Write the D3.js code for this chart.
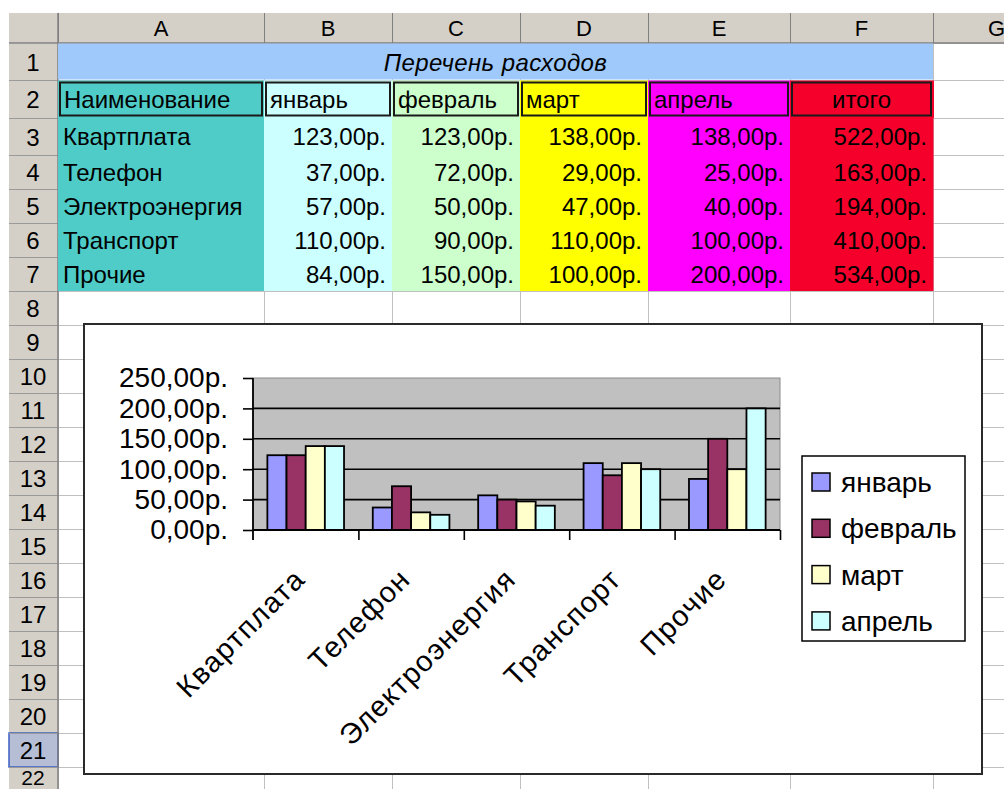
<!DOCTYPE html>
<html><head><meta charset="utf-8">
<script src="https://cdn.jsdelivr.net/npm/d3@7"></script>
<style>
html,body{margin:0;padding:0;background:#fff;}
svg{display:block;}
text{font-family:"Liberation Sans",Arial,sans-serif;fill:#000;}
</style></head>
<body>
<svg id="c" width="1004" height="789"></svg>
<script>
// ---------- data ----------
const categories = ["Квартплата","Телефон","Электроэнергия","Транспорт","Прочие"];
const months = ["январь","февраль","март","апрель"];
const january = [123,37,57,110,84];
const february = [123,72,50,90,150];
const march = [138,29,47,110,100];
const april = [138,25,40,100,200];
const totals = [522,163,194,410,534];
const yTicks = [0,50,100,150,200,250];
const columnLetters = ["A","B","C","D","E","F","G"];
const rowNumbers = d3.range(1,23);
const sheetTitle = "Перечень расходов";
const nameHeader = "Наименование";
const totalHeader = "итого";

const series = [january,february,march,april];
const fmt = v => v.toFixed(2).replace(".", ",") + "р.";

// ---------- layout ----------
const svg = d3.select("#c");
const colX = [58,264,392,520,648,790,933,1060];
const rowY = [43,80,118,155,189,223,257,291];
for (let i=8;i<=22;i++) rowY.push(rowY[rowY.length-1]+34);
const hdrTop = 13, rowHdrLeft = 9;
const grid = "#c0c0c0";

// white cells + gridlines
svg.append("rect").attr("x",58).attr("y",43).attr("width",1004-58).attr("height",789-43).attr("fill","#fff");
svg.append("g").selectAll("line").data(rowY).join("line")
  .attr("x1",58).attr("x2",1004).attr("y1",d=>d+0.5).attr("y2",d=>d+0.5).attr("stroke",grid);
svg.append("g").selectAll("line").data(colX).join("line")
  .attr("y1",43).attr("y2",789).attr("x1",d=>d+0.5).attr("x2",d=>d+0.5).attr("stroke",grid);

// column headers
const hdrFill = "#d4d0c8";
svg.append("rect").attr("x",rowHdrLeft).attr("y",hdrTop).attr("width",1004-rowHdrLeft).attr("height",43-hdrTop).attr("fill",hdrFill);
svg.append("rect").attr("x",rowHdrLeft).attr("y",hdrTop).attr("width",58-rowHdrLeft).attr("height",789-hdrTop).attr("fill",hdrFill);
const colG = svg.append("g");
columnLetters.forEach((c,i)=>{
  colG.append("line").attr("x1",colX[i]+0.5).attr("x2",colX[i]+0.5).attr("y1",hdrTop).attr("y2",43).attr("stroke","#808080");
  colG.append("text").attr("x",(colX[i]+colX[i+1])/2).attr("y",36).attr("text-anchor","middle")
    .attr("font-size",22).text(c);
});
svg.append("line").attr("x1",rowHdrLeft).attr("x2",1004).attr("y1",43).attr("y2",43).attr("stroke","#808080").attr("stroke-width",1.5);
// row headers
const rowG = svg.append("g");
rowNumbers.forEach((r,i)=>{
  const y0 = rowY[i], y1 = rowY[i+1];
  if (r===21){
    rowG.append("rect").attr("x",rowHdrLeft).attr("y",y0).attr("width",58-rowHdrLeft).attr("height",y1-y0)
      .attr("fill","#b6bed6").attr("stroke","#3b5fc4").attr("stroke-width",1.5);
  }
  rowG.append("line").attr("x1",rowHdrLeft).attr("x2",58).attr("y1",y0+0.5).attr("y2",y0+0.5).attr("stroke","#9a9a9a");
  const last = r===22;
  rowG.append("text").attr("x",33).attr("y",last ? 785 : (y0+y1)/2+9).attr("text-anchor","middle")
    .attr("font-size",last ? 21 : 24).text(r);
});
svg.append("line").attr("x1",58).attr("x2",58).attr("y1",hdrTop).attr("y2",789).attr("stroke","#808080").attr("stroke-width",1.5);

// row 1 title
svg.append("rect").attr("x",58).attr("y",43.5).attr("width",933-58).attr("height",80-44).attr("fill","#9ec9fa");
svg.append("text").attr("x",(58+933)/2).attr("y",71).attr("text-anchor","middle").attr("font-size",24)
  .attr("font-style","italic").attr("letter-spacing",0.4).text(sheetTitle);

// table colours
const colColors = ["#50ccc8","#ccffff","#ccffcc","#ffff00","#ff00ff","#f5002a"];
// row 2 headers
const headers = [nameHeader, ...months, totalHeader];
headers.forEach((h,i)=>{
  svg.append("rect").attr("x",colX[i]).attr("y",80.5).attr("width",colX[i+1]-colX[i]+1).attr("height",118-80.5).attr("fill",colColors[i]);
});
headers.forEach((h,i)=>{
  svg.append("rect").attr("x",colX[i]+2).attr("y",82.5).attr("width",colX[i+1]-colX[i]-4).attr("height",33)
    .attr("fill","none").attr("stroke","#1a1a1a").attr("stroke-width",2);
  const center = i===5;
  svg.append("text").attr("x",center?(colX[i]+colX[i+1])/2:colX[i]+6).attr("y",108)
    .attr("text-anchor",center?"middle":"start").attr("font-size",24).text(h);
});
// rows 3-7
const tableCols = [categories, january, february, march, april, totals];
tableCols.forEach((col,i)=>{
  svg.append("rect").attr("x",colX[i]).attr("y",118).attr("width",colX[i+1]-colX[i]+(i<5?1:0.5)).attr("height",291-118).attr("fill",colColors[i]);
});
tableCols.forEach((col,i)=>{
  svg.append("g").selectAll("text").data(col).join("text")
    .attr("x",i===0?colX[0]+5:colX[i+1]-6)
    .attr("y",(d,j)=>(rowY[j+2]+rowY[j+3])/2+8.5)
    .attr("text-anchor",i===0?"start":"end").attr("font-size",24)
    .text(d=>i===0?d:fmt(d));
});

// ---------- chart ----------
svg.append("rect").attr("x",84).attr("y",324).attr("width",898).attr("height",450)
  .attr("fill","#fff").attr("stroke","#2a2a2a").attr("stroke-width",2);

const x = d3.scaleBand().domain(categories).range([253,780]).padding(0);
const xm = d3.scaleBand().domain(months).range([0,x.bandwidth()]).paddingInner(0).paddingOuter(0.75);
const y = d3.scaleLinear().domain([0,250]).range([530,378]);
const barColors = ["#9999ff","#993366","#ffffcc","#ccffff"];

svg.append("rect").attr("x",253).attr("y",y(250)).attr("width",780-253).attr("height",y(0)-y(250))
  .attr("fill","#c0c0c0").attr("stroke","#8a8a8a").attr("stroke-width",1);
svg.append("g").selectAll("line").data(yTicks.filter(v=>v>0&&v<250)).join("line")
  .attr("x1",253).attr("x2",780).attr("y1",d=>y(d)).attr("y2",d=>y(d)).attr("stroke","#000").attr("stroke-width",1.6);

const bars = svg.append("g");
months.forEach((m,si)=>{
  bars.append("g").selectAll("rect").data(series[si]).join("rect")
    .attr("x",(d,i)=>x(categories[i])+xm(m))
    .attr("y",d=>y(d))
    .attr("width",xm.bandwidth())
    .attr("height",d=>y(0)-y(d))
    .attr("fill",barColors[si]).attr("stroke","#000").attr("stroke-width",1.8);
});

const yAxis = d3.axisLeft(y).tickValues(yTicks).tickSize(10).tickPadding(15).tickFormat(fmt);
const ya = svg.append("g").attr("transform","translate(253,0)").call(yAxis);
ya.select(".domain").remove();
ya.selectAll("line").attr("stroke","#000").attr("stroke-width",1.6);
ya.selectAll("text").attr("font-size",28).attr("font-family","'Liberation Sans',Arial,sans-serif").attr("fill","#000");
svg.append("line").attr("x1",253).attr("x2",253).attr("y1",y(250)).attr("y2",540).attr("stroke","#000").attr("stroke-width",1.8);

const xb = d3.scaleLinear().domain([0,categories.length]).range([253,780]);
const xAxis = d3.axisBottom(xb).tickValues(d3.range(1,categories.length+1)).tickSize(10).tickFormat("");
const xa = svg.append("g").attr("transform","translate(0,530)").call(xAxis);
xa.select(".domain").attr("stroke","#000").attr("stroke-width",1.8).attr("d","M253,0H780");
xa.selectAll("line").attr("stroke","#000").attr("stroke-width",1.6);

svg.append("g").selectAll("text").data(categories).join("text")
  .attr("transform",d=>`translate(${x(d)+x.bandwidth()/2+1},581) rotate(-45)`)
  .attr("text-anchor","end").attr("font-size",29).attr("letter-spacing",1.3).text(d=>d);

// legend
const lg = svg.append("g");
lg.append("rect").attr("x",802).attr("y",456).attr("width",163).attr("height",185)
  .attr("fill","#fff").attr("stroke","#000").attr("stroke-width",1.5);
months.forEach((m,i)=>{
  const cy = 482 + i*46.3;
  lg.append("rect").attr("x",812).attr("y",cy-9).attr("width",18).attr("height",18)
    .attr("fill",barColors[i]).attr("stroke","#000").attr("stroke-width",1.5);
  lg.append("text").attr("x",841).attr("y",cy+10).attr("font-size",28).text(m);
});
</script>
</body></html>
